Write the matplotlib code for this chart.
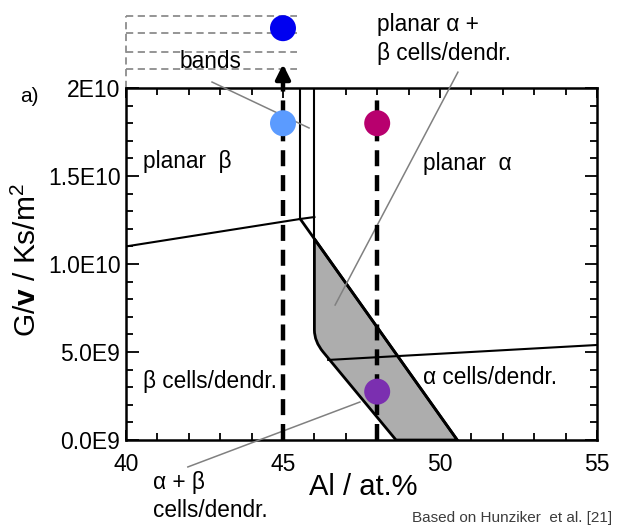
import matplotlib
matplotlib.use("Agg")
import matplotlib.pyplot as plt
from matplotlib.path import Path
from matplotlib.patches import PathPatch
from matplotlib.ticker import MultipleLocator

plt.rcParams['font.family'] = ['Liberation Sans', 'DejaVu Sans']
plt.rcParams['mathtext.fontset'] = 'custom'
plt.rcParams['mathtext.rm'] = 'Liberation Sans'
plt.rcParams['mathtext.bf'] = 'Liberation Sans:bold'

# phase boundaries, Al at.% vs G/v
beta_x = [40.0, 45.55, 46.0]
beta_y = [1.10e10, 1.256e10, 1.267e10]
band_lo_x = [45.55, 45.55]
band_lo_y = [1.256e10, 2.0e10]
band_hi_x = [46.0, 46.0]
band_hi_y = [1.143e10, 2.0e10]
edge_x = [45.55, 50.55]
edge_y = [1.256e10, 0.0]
alpha_x = [46.44, 55.0]
alpha_y = [4.55e9, 5.4e9]

# grey alpha+beta cells field (corner: x=46 -> left diagonal)
gray_x = [46.0, 50.55, 48.6, 46.28, 46.0, 46.0, 46.0]
gray_y = [1.143e10, 0.0, 0.0, 5.0e9, 5.6e9, 6.25e9, 1.143e10]

# experiments
pt_x = [45.0, 48.0, 48.0, 45.0]
pt_y = [1.8e10, 1.8e10, 2.75e9, 2.34e10]
pt_c = ['#5b9bff', '#b8006e', '#7b2fb0', '#0000f0']

path_x = [45.0, 48.0]
path_top = [2.07e10, 1.95e10]

band_levels = [2.108e10, 2.205e10, 2.312e10, 2.409e10]
band_span = [40.0, 45.45]

# leader lines for the labels
lead_bands = ([42.74, 45.83], [2.034e10, 1.773e10])
lead_ab_planar = ([50.57, 46.66], [2.09e10, 7.67e9])
lead_ab_cells = ([41.97, 47.45], [-1.53e9, 2.16e9])

yticks = [0, 5e9, 1e10, 1.5e10, 2e10]
ytick_labels = ['0.0E9', '5.0E9', '1.0E10', '1.5E10', '2E10']
xticks = [40, 45, 50, 55]

fig = plt.figure(figsize=(6.2, 5.29), dpi=100)
ax = fig.add_axes([0.2032, 0.1682, 0.7597, 0.6654])

verts = list(zip(gray_x, gray_y))
codes = [Path.MOVETO, Path.LINETO, Path.LINETO, Path.LINETO,
         Path.CURVE3, Path.CURVE3, Path.LINETO]
ax.add_patch(PathPatch(Path(verts, codes), facecolor='#adadad',
                       edgecolor='black', lw=2, zorder=2))

ax.plot(beta_x, beta_y, color='black', lw=1.5, zorder=3)
ax.plot(band_lo_x, band_lo_y, color='black', lw=1.5, zorder=3)
ax.plot(band_hi_x, band_hi_y, color='black', lw=1.5, zorder=3)
ax.plot(edge_x, edge_y, color='black', lw=2, zorder=3)
ax.plot(alpha_x, alpha_y, color='black', lw=1.5, zorder=3)

# grey dashed "bands" box above the plot
for yb in band_levels:
    ax.plot(band_span, [yb, yb], color='#8c8c8c', lw=1.3, ls=(0, (4, 2.5)),
            clip_on=False)
ax.plot([band_span[0], band_span[0]], [2.0e10, band_levels[-1]],
        color='#8c8c8c', lw=1.3, ls=(0, (4, 2.5)), clip_on=False)

# solidification paths
for px, pt in zip(path_x, path_top):
    ax.plot([px, px], [0, pt], color='black', lw=3.2, ls=(0, (3.6, 2.0)),
            clip_on=False, zorder=4)
ax.annotate('', xy=(path_x[0], 2.135e10), xytext=(path_x[0], 2.04e10),
            arrowprops=dict(arrowstyle='-|>', color='black', lw=3,
                            mutation_scale=22, shrinkA=0, shrinkB=0),
            annotation_clip=False, zorder=5)

for lx, ly in [lead_bands, lead_ab_planar, lead_ab_cells]:
    ax.plot(lx, ly, color='#808080', lw=1.1, clip_on=False, zorder=3)

ax.scatter(pt_x, pt_y, s=350, c=pt_c, edgecolors='none', clip_on=False,
           zorder=6)

fs = 16.3
ax.text(40.54, 1.58e10, 'planar  β', fontsize=fs, va='center')
ax.text(40.54, 3.3e9, 'β cells/dendr.', fontsize=fs, va='center')
ax.text(49.46, 1.574e10, 'planar  α', fontsize=fs, va='center')
ax.text(49.46, 3.58e9, 'α cells/dendr.', fontsize=fs, va='center')
ax.text(48.0, 2.28e10, 'planar α +\nβ cells/dendr.', fontsize=fs,
        va='center', linespacing=1.35)
ax.text(42.68, 2.15e10, 'bands', fontsize=fs, ha='center', va='center')
ax.text(40.86, -3.2e9, 'α + β\ncells/dendr.', fontsize=fs, va='center',
        linespacing=1.3)

ax.set_xlim(40, 55)
ax.set_ylim(0, 2e10)
ax.set_xticks(xticks)
ax.set_yticks(yticks)
ax.set_yticklabels(ytick_labels)
ax.xaxis.set_minor_locator(MultipleLocator(1))
ax.yaxis.set_minor_locator(MultipleLocator(1e9))
ax.tick_params(which='both', direction='in', top=True, right=True,
               width=1.3, labelsize=16.5)
ax.tick_params(which='major', length=9)
ax.tick_params(which='minor', length=5)
ax.tick_params(axis='x', which='major', length=7, pad=9)
ax.tick_params(axis='y', pad=4)
for sp in ax.spines.values():
    sp.set_linewidth(1.8)

ax.set_xlabel('Al / at.%', fontsize=21)
ax.xaxis.set_label_coords(0.503, -0.095)
ax.xaxis.label.set_va('top')
ax.set_ylabel(r'G/$\mathbf{v}$ / Ks/m$^2$', fontsize=21.5)
ax.yaxis.set_label_coords(-0.178, 0.51)

fig.text(20 / 620, 1 - 97 / 529, 'a)', fontsize=15, ha='left', va='center')
fig.text(612 / 620, 1 - 518 / 529, 'Based on Hunziker  et al. [21]',
         fontsize=11, color='#3c3c3c', ha='right', va='center')

fig.savefig('out.png', dpi=100)
